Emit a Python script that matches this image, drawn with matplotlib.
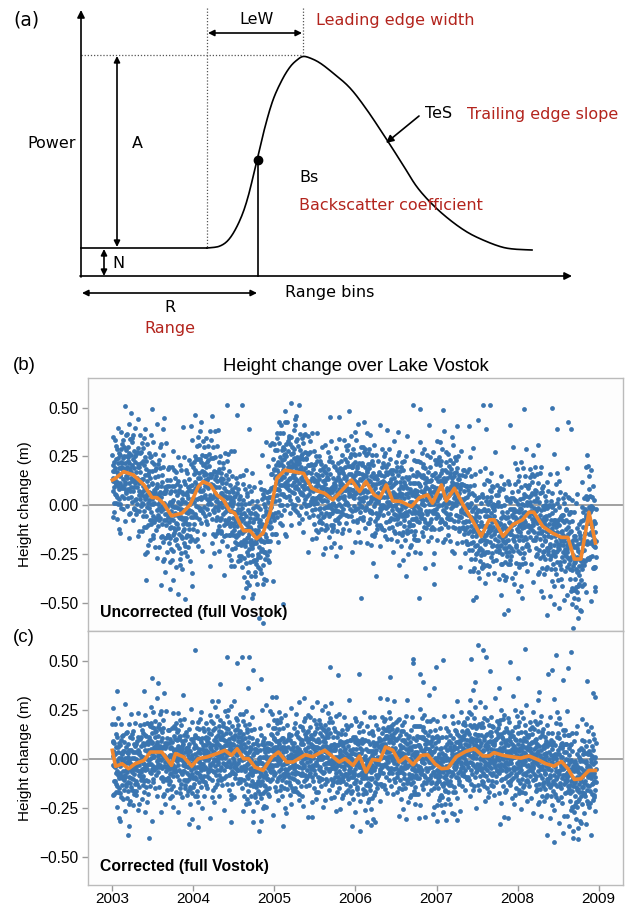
#!/usr/bin/env python3
"""
Altimeter waveform parameters (a) and height change over Lake Vostok (b, c).
"""

from statistics import NormalDist

import matplotlib
matplotlib.use('Agg')
import matplotlib.pyplot as plt
import numpy as np

# --- Figure ---
W_PX, H_PX = 633, 907
DPI = 100
BLUE   = '#3a75b0'
ORANGE = '#f0862d'
RED    = '#b3241d'

# --- Panel (a): schematic waveform, read in image pixel units ---
WAVE_X = [81, 207, 220, 230, 240, 248, 257, 265, 273, 282, 290, 297, 303,
          310, 320, 333, 350, 367, 387, 403, 417, 433, 450, 467, 483, 500, 513, 532]
WAVE_Y = [248, 248, 246, 238, 220, 197, 160, 127, 100, 80, 67, 60, 56.5,
          58, 63, 73, 88, 110, 140, 165, 187, 205, 220, 232, 240, 246.5, 249, 250]
BS_POINT = (258, 160)

# --- Panels (b), (c): running mean ---
UNCORR_T = [2003.00, 2003.04, 2003.14, 2003.26, 2003.39, 2003.49, 2003.55, 2003.63,
            2003.73, 2003.86, 2003.96, 2004.06, 2004.12, 2004.21, 2004.29, 2004.37,
            2004.45, 2004.51, 2004.58, 2004.62, 2004.70, 2004.78, 2004.86, 2004.95,
            2005.03, 2005.13, 2005.23, 2005.36, 2005.46, 2005.55, 2005.62, 2005.72,
            2005.82, 2005.95, 2006.05, 2006.13, 2006.23, 2006.30, 2006.38, 2006.46,
            2006.56, 2006.69, 2006.79, 2006.89, 2006.95, 2007.06, 2007.12, 2007.22,
            2007.34, 2007.45, 2007.55, 2007.65, 2007.71, 2007.82, 2007.94, 2008.06,
            2008.14, 2008.20, 2008.31, 2008.43, 2008.54, 2008.62, 2008.70, 2008.78,
            2008.88, 2008.96]
UNCORR_H = [0.129, 0.138, 0.172, 0.155, 0.104, 0.039, 0.039, 0.010,
            -0.055, -0.041, 0.002, 0.095, 0.121, 0.104, 0.053, 0.027,
            -0.029, -0.041, -0.100, -0.131, -0.131, -0.172, -0.143, -0.032,
            0.138, 0.180, 0.172, 0.163, 0.087, 0.070, 0.061, 0.027,
            0.070, 0.129, 0.070, 0.121, 0.053, 0.036, 0.104, 0.022,
            0.019, -0.007, 0.039, 0.053, 0.010, 0.104, 0.022, 0.087,
            -0.007, -0.083, -0.160, -0.075, -0.075, -0.160, -0.100, -0.075,
            -0.036, -0.036, -0.109, -0.143, -0.165, -0.165, -0.276, -0.276,
            -0.036, -0.194]

CORR_T = [2003.00, 2003.04, 2003.12, 2003.20, 2003.28, 2003.39, 2003.47, 2003.61,
          2003.73, 2003.78, 2003.88, 2003.98, 2004.06, 2004.17, 2004.29, 2004.39,
          2004.47, 2004.54, 2004.62, 2004.68, 2004.76, 2004.86, 2004.97, 2005.05,
          2005.15, 2005.23, 2005.38, 2005.47, 2005.62, 2005.70, 2005.80, 2005.87,
          2005.97, 2006.05, 2006.13, 2006.21, 2006.30, 2006.37, 2006.46, 2006.54,
          2006.62, 2006.71, 2006.81, 2006.89, 2006.98, 2007.06, 2007.14, 2007.24,
          2007.36, 2007.47, 2007.57, 2007.65, 2007.71, 2007.82, 2007.94, 2008.04,
          2008.14, 2008.25, 2008.35, 2008.45, 2008.54, 2008.62, 2008.70, 2008.78,
          2008.88, 2008.96]
CORR_H = [0.043, -0.039, -0.026, -0.051, -0.026, -0.009, 0.034, 0.034,
          -0.034, 0.026, 0.009, -0.038, 0.000, 0.009, 0.026, 0.043,
          0.017, 0.051, 0.000, 0.000, -0.043, -0.060, 0.009, 0.034,
          -0.017, -0.017, 0.020, 0.010, 0.043, 0.017, -0.017, 0.000,
          -0.034, 0.014, -0.068, -0.004, -0.009, 0.060, 0.043, -0.017,
          0.009, -0.031, 0.017, 0.020, -0.026, -0.051, -0.048, 0.009,
          0.037, 0.051, 0.014, 0.014, 0.031, 0.017, 0.009, 0.003,
          0.014, -0.005, -0.026, -0.038, -0.014, -0.051, -0.106, -0.103,
          -0.060, -0.060]

# Spread (std, m) of the dense point cloud round the running mean, every half year
SPREAD_T      = [2003.0, 2003.5, 2004.0, 2004.5, 2005.0, 2005.5, 2006.0,
                 2006.5, 2007.0, 2007.5, 2008.0, 2008.5, 2009.0]
UNCORR_SPREAD = [0.12, 0.16, 0.16, 0.14, 0.16, 0.125, 0.135,
                 0.135, 0.135, 0.14, 0.15, 0.15, 0.15]
CORR_SPREAD   = [0.125, 0.115, 0.115, 0.115, 0.115, 0.115, 0.115,
                 0.115, 0.115, 0.115, 0.115, 0.125, 0.12]
CLOUD_POINTS = 2600

# Isolated points away from the cloud
UNCORR_OUT_T = [2003.49, 2004.02, 2004.41, 2004.60, 2004.54, 2004.69, 2003.63, 2005.13,
                2005.25, 2005.36, 2004.86, 2004.72, 2003.71, 2003.90, 2005.11, 2003.41,
                2003.98, 2006.71, 2006.80, 2007.08, 2007.57, 2007.66, 2008.08, 2008.42,
                2007.51, 2007.40, 2007.61, 2007.90, 2008.62, 2008.48, 2008.66, 2008.85,
                2006.53, 2005.68, 2005.80, 2006.03, 2006.07, 2006.78, 2007.45, 2008.36,
                2008.31, 2008.45, 2008.67, 2008.74, 2008.96, 2008.06, 2008.01, 2006.97,
                2006.25]
UNCORR_OUT_H = [0.494, 0.464, 0.512, 0.512, 0.464, 0.393, 0.393, 0.427,
                0.444, 0.410, -0.602, -0.474, -0.432, -0.483, -0.508, -0.381,
                -0.415, 0.512, 0.495, 0.486, 0.512, 0.512, 0.491, 0.500,
                0.435, 0.405, 0.393, 0.410, 0.427, 0.393, 0.388, 0.257,
                0.376, 0.452, 0.452, 0.418, -0.474, -0.474, -0.486, -0.563,
                -0.471, -0.505, -0.505, -0.483, -0.420, -0.474, -0.440, -0.406,
                -0.364]

CORR_OUT_T = [2004.02, 2004.41, 2004.60, 2004.69, 2004.54, 2004.73, 2003.49, 2004.83,
              2004.33, 2003.56, 2003.06, 2003.39, 2004.68, 2004.97, 2005.02, 2005.36,
              2003.19, 2003.45, 2004.06, 2005.10, 2005.46, 2003.95, 2003.49, 2004.47,
              2004.74, 2004.84, 2007.51, 2007.57, 2007.61, 2008.09, 2008.66, 2008.47,
              2007.90, 2007.42, 2007.08, 2006.71, 2006.71, 2006.99, 2005.68, 2008.42,
              2008.37, 2008.62, 2005.78, 2006.04, 2006.43, 2006.80, 2007.66, 2008.00,
              2008.85, 2008.56, 2007.48, 2006.83, 2006.97, 2007.77, 2008.26, 2008.93,
              2008.95, 2006.06, 2008.45, 2008.36, 2008.56, 2008.74, 2008.68, 2008.63,
              2007.78, 2006.19, 2006.24, 2006.78, 2007.12, 2007.25, 2007.00]
CORR_OUT_H = [0.556, 0.521, 0.521, 0.521, 0.491, 0.453, 0.414, 0.407,
              0.379, 0.385, 0.345, 0.345, 0.359, 0.313, 0.313, 0.308,
              -0.390, -0.407, -0.350, -0.342, -0.296, -0.333, -0.316, -0.325,
              -0.321, -0.316, 0.578, 0.556, 0.521, 0.559, 0.547, 0.527,
              0.496, 0.508, 0.504, 0.508, 0.491, 0.467, 0.467, 0.453,
              0.432, 0.465, 0.427, 0.431, 0.419, 0.431, 0.448, 0.414,
              0.396, 0.402, 0.393, 0.390, 0.359, 0.359, 0.342, 0.333,
              0.316, -0.371, -0.427, -0.388, -0.381, -0.410, -0.368, -0.342,
              -0.333, -0.337, -0.321, -0.304, -0.313, -0.313, -0.316]

YEARS = [2003, 2004, 2005, 2006, 2007, 2008, 2009]
HEIGHT_TICKS = [-0.50, -0.25, 0.00, 0.25, 0.50]


def halton(n: int, base: int) -> np.ndarray:
    """Low-discrepancy sequence in [0, 1)."""
    out = np.empty(n)
    for i in range(n):
        f, r, k = 1.0, 0.0, i + 1
        while k > 0:
            f /= base
            r += f * (k % base)
            k //= base
        out[i] = r
    return out


def cloud(mean_t, mean_h, spread, n):
    """Spread points round the read running mean with the read spread."""
    u = halton(n, 2)
    v = np.clip(halton(n, 3), 0.003, 0.997)
    t = 2003.0 + 5.97 * u
    z = np.array([NormalDist().inv_cdf(p) for p in v])
    h = np.interp(t, mean_t, mean_h) + np.interp(t, SPREAD_T, spread) * z
    return t, h


def smooth_curve(x, y, steps=10):
    """Catmull-Rom curve through the read points, so the pen line has no kinks."""
    pts = np.column_stack([x, y]).astype(float)
    pts = np.vstack([pts[0], pts, pts[-1]])
    s = np.linspace(0, 1, steps, endpoint=False)[:, None]
    segs = []
    for i in range(1, len(pts) - 2):
        p0, p1, p2, p3 = pts[i - 1], pts[i], pts[i + 1], pts[i + 2]
        segs.append(0.5 * (2 * p1 + (p2 - p0) * s
                           + (2 * p0 - 5 * p1 + 4 * p2 - p3) * s ** 2
                           + (3 * p1 - p0 - 3 * p2 + p3) * s ** 3))
    segs.append(pts[-2][None])
    out = np.vstack(segs)
    return out[:, 0], out[:, 1]


fig = plt.figure(figsize=(W_PX / DPI, H_PX / DPI), dpi=DPI)
fig.patch.set_facecolor('white')

# --- Panel (a): waveform schematic, pixel coordinates ---
ax_a = fig.add_axes([0, 1 - 340 / H_PX, 1, 340 / H_PX])
ax_a.set_xlim(0, W_PX)
ax_a.set_ylim(340, 0)
ax_a.axis('off')

line_kw = dict(color='black', lw=1.2)
arrow_kw = dict(arrowstyle='-|>', color='black', lw=1.2, mutation_scale=11,
                shrinkA=0, shrinkB=0)
double_kw = dict(arrowstyle='<|-|>', color='black', lw=1.2, mutation_scale=9,
                 shrinkA=0, shrinkB=0)
dot_kw = dict(color='#555555', lw=0.9, linestyle=(0, (1, 1.5)))

ax_a.annotate('', xy=(81, 10), xytext=(81, 277), arrowprops=arrow_kw)
ax_a.annotate('', xy=(572, 276), xytext=(80, 276), arrowprops=arrow_kw)
# flat noise floor, then the smooth pulse
ax_a.plot(WAVE_X[:2], WAVE_Y[:2], **line_kw)
ax_a.plot(*smooth_curve(WAVE_X[1:], WAVE_Y[1:]), **line_kw)
ax_a.plot([BS_POINT[0], BS_POINT[0]], [BS_POINT[1], 276], **line_kw)
ax_a.plot(*BS_POINT, 'o', color='black', ms=6)

ax_a.plot([81, 303], [55, 55], **dot_kw)
ax_a.plot([207, 207], [8, 248], **dot_kw)
ax_a.plot([303, 303], [8, 55], **dot_kw)

ax_a.annotate('', xy=(208, 33), xytext=(302, 33), arrowprops=double_kw)
ax_a.annotate('', xy=(117, 56), xytext=(117, 247), arrowprops=double_kw)
ax_a.annotate('', xy=(104, 249), xytext=(104, 276), arrowprops=double_kw)
ax_a.annotate('', xy=(82, 293), xytext=(257, 293), arrowprops=double_kw)
ax_a.annotate('', xy=(386, 143), xytext=(419, 116), arrowprops=arrow_kw)

txt = dict(fontsize=11.5, va='center', family='DejaVu Sans')
ax_a.text(13, 20, '(a)', fontsize=13.5, va='center')
ax_a.text(257, 20, 'LeW', ha='center', **txt)
ax_a.text(316, 20, 'Leading edge width', color=RED, **txt)
ax_a.text(27, 143, 'Power', **txt)
ax_a.text(137, 144, 'A', ha='center', **txt)
ax_a.text(112, 264, 'N', **txt)
ax_a.text(170, 307, 'R', ha='center', **txt)
ax_a.text(170, 328, 'Range', ha='center', color=RED, **txt)
ax_a.text(285, 293, 'Range bins', **txt)
ax_a.text(299, 178, 'Bs', **txt)
ax_a.text(299, 205, 'Backscatter coefficient', color=RED, **txt)
ax_a.text(425, 114, 'TeS', **txt)
ax_a.text(467, 114, 'Trailing edge slope', color=RED, **txt)

# --- Panels (b) and (c): height change ---
plt.rcParams['font.family'] = ['Liberation Sans', 'DejaVu Sans']

ax_b = fig.add_axes([88 / W_PX, (H_PX - 631) / H_PX, 535 / W_PX, 253 / H_PX])
ax_c = fig.add_axes([88 / W_PX, (H_PX - 885) / H_PX, 535 / W_PX, 254 / H_PX], sharex=ax_b)

panels = [
    (ax_b, UNCORR_T, UNCORR_H, UNCORR_SPREAD, UNCORR_OUT_T, UNCORR_OUT_H, 'Uncorrected (full Vostok)'),
    (ax_c, CORR_T, CORR_H, CORR_SPREAD, CORR_OUT_T, CORR_OUT_H, 'Corrected (full Vostok)'),
]

for ax, mean_t, mean_h, spread, out_t, out_h, label in panels:
    ax.set_facecolor('#fdfdfd')
    ct, ch = cloud(mean_t, mean_h, spread, CLOUD_POINTS)
    ax.axhline(0, color='#999999', lw=1.3, zorder=1)
    ax.scatter(ct, ch, s=12, color=BLUE, linewidths=0, zorder=2)
    ax.scatter(out_t, out_h, s=12, color=BLUE, linewidths=0, zorder=2)
    ax.plot(mean_t, mean_h, color=ORANGE, lw=2.6, zorder=3)

    ax.set_ylim(-0.645, 0.652)
    ax.set_yticks(HEIGHT_TICKS)
    ax.set_yticklabels([f'{v:.2f}'.replace('-', '\u2212') for v in HEIGHT_TICKS])
    ax.set_ylabel('Height change (m)', fontsize=11, labelpad=5)
    ax.tick_params(axis='both', colors='#999999', labelcolor='black', labelsize=11.2,
                   length=4, width=1)
    ax.tick_params(axis='y', pad=3)
    for spine in ax.spines.values():
        spine.set_color('#bbbbbb')
        spine.set_linewidth(1)
    ax.text(0.022, 0.072, label, transform=ax.transAxes, fontsize=11.3,
            fontweight='bold', va='center')

ax_b.set_xlim(2002.70, 2009.30)
ax_b.set_xticks(YEARS)
ax_b.tick_params(axis='x', bottom=False, labelbottom=False)
ax_c.tick_params(axis='x', pad=0.8, labelsize=11)
ax_c.set_xticklabels([str(y) for y in YEARS])

ax_b.set_title('Height change over Lake Vostok', fontsize=13.3, pad=5)
fig.text(13 / W_PX, 1 - 365 / H_PX, '(b)', fontsize=13.5, va='center')
fig.text(13 / W_PX, 1 - 637 / H_PX, '(c)', fontsize=13.5, va='center')

fig.savefig('out.png', dpi=DPI)
